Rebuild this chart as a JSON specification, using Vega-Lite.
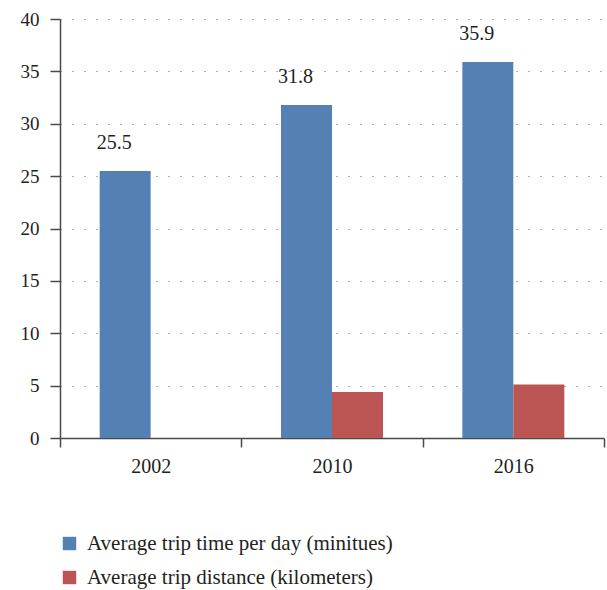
{
  "$schema": "https://vega.github.io/schema/vega-lite/v6.json",
  "width": 544,
  "height": 419,
  "autosize": "none",
  "padding": {"left": 60, "top": 19, "right": 3, "bottom": 152},
  "background": "white",
  "config": {
    "font": "Liberation Serif",
    "view": {"stroke": null}
  },
  "data": {
    "values": [
      {"year": "2002", "series": "Average trip time per day (minitues)", "value": 25.5},
      {"year": "2010", "series": "Average trip time per day (minitues)", "value": 31.8},
      {"year": "2016", "series": "Average trip time per day (minitues)", "value": 35.9},
      {"year": "2010", "series": "Average trip distance (kilometers)", "value": 4.4},
      {"year": "2016", "series": "Average trip distance (kilometers)", "value": 5.1}
    ]
  },
  "encoding": {
    "x": {
      "field": "year",
      "type": "nominal",
      "scale": {"paddingInner": 0, "paddingOuter": 0},
      "axis": {
        "title": null,
        "labelAngle": 0,
        "tickBand": "extent",
        "domainColor": "#4a4a4a",
        "domainWidth": 1.5,
        "tickColor": "#4a4a4a",
        "tickWidth": 1.5,
        "tickSize": 9,
        "labelPadding": 9,
        "labelFont": "Liberation Serif",
        "labelFontSize": 20,
        "labelColor": "#231f20",
        "grid": false
      }
    },
    "xOffset": {
      "field": "series",
      "type": "nominal",
      "sort": ["Average trip time per day (minitues)", "Average trip distance (kilometers)"],
      "scale": {"paddingInner": 0, "paddingOuter": 0.778}
    }
  },
  "layer": [
    {
      "mark": {"type": "bar"},
      "encoding": {
        "y": {
          "field": "value",
          "type": "quantitative",
          "scale": {"domain": [0, 40], "nice": false},
          "axis": {
            "title": null,
            "values": [0, 5, 10, 15, 20, 25, 30, 35, 40],
            "domainColor": "#4a4a4a",
            "domainWidth": 1.5,
            "tickColor": "#4a4a4a",
            "tickWidth": 1.5,
            "tickSize": 10,
            "labelPadding": 11,
            "labelFont": "Liberation Serif",
            "labelFontSize": 19,
            "labelColor": "#231f20",
            "grid": true,
            "gridColor": "#7a7a7a",
            "gridWidth": 1.2,
            "gridDash": [1.2, 10.8]
          }
        },
        "color": {
          "field": "series",
          "type": "nominal",
          "scale": {
            "domain": ["Average trip time per day (minitues)", "Average trip distance (kilometers)"],
            "range": ["#5480b4", "#bb5553"]
          },
          "legend": {
            "title": null,
            "orient": "none",
            "legendX": -1,
            "legendY": 514,
            "symbolType": "square",
            "symbolSize": 180,
            "symbolStrokeWidth": 0,
            "symbolOpacity": 1,
            "labelFont": "Liberation Serif",
            "labelFontSize": 21,
            "labelColor": "#231f20",
            "labelOffset": 7,
            "rowPadding": 12,
            "labelLimit": 500
          }
        }
      }
    },
    {
      "transform": [{"filter": "datum.series === 'Average trip time per day (minitues)'"}],
      "mark": {"type": "text", "dx": -11, "dy": -28, "baseline": "middle", "font": "Liberation Serif", "fontSize": 20, "color": "#231f20"},
      "encoding": {
        "y": {"field": "value", "type": "quantitative"},
        "text": {"field": "value", "type": "quantitative", "format": ".1f"}
      }
    }
  ]
}
